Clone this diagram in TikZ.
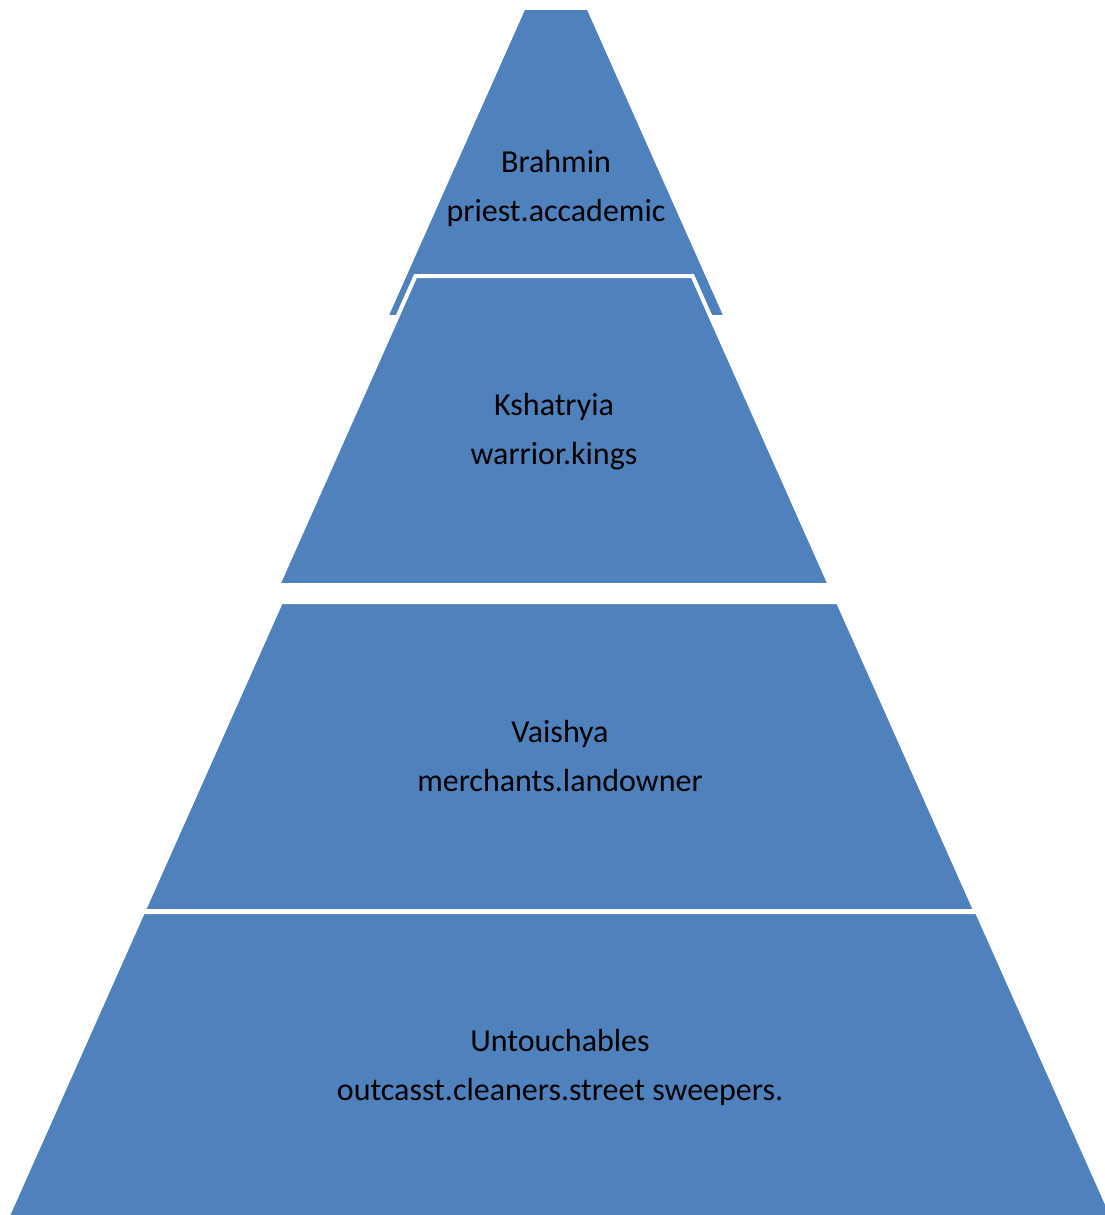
\documentclass[tikz,border=0pt]{standalone}
\usepackage{fontspec}
\setmainfont{Carlito}
\definecolor{layerblue}{RGB}{79,129,189}

\begin{document}
\begin{tikzpicture}[x=1pt,y=-1pt,
  lay/.style={fill=layerblue,draw=white,line width=4pt,line join=miter},
  txt/.style={align=center,font=\fontsize{32}{49}\selectfont,inner sep=0pt}]
\useasboundingbox (0,0) rectangle (1104,1215);
% layers of the pyramid, top first
\draw[lay] (523.5,8) -- (588.5,8) -- (726,317) -- (386,317) -- cycle;
\draw[lay] (415.5,276) -- (692.5,276) -- (830,585) -- (278,585) -- cycle;
\draw[lay] (281,602) -- (838,602) -- (975.5,911) -- (143.5,911) -- cycle;
\draw[lay] (143,912) -- (977,912) -- (1112.7,1217) -- (7.3,1217) -- cycle;
% labels
\node[txt] (brahmin) at (556,188) {Brahmin\\priest.accademic};
\node[txt] (kshat) at (554,432) {Kshatryia\\warrior.kings};
\node[txt] (vaish) at (560,756) {Vaishya\\merchants.landowner};
\node[txt] (untouch) at (560,1067) {Untouchables\\outcasst.cleaners.street sweepers.};
\end{tikzpicture}
\end{document}
